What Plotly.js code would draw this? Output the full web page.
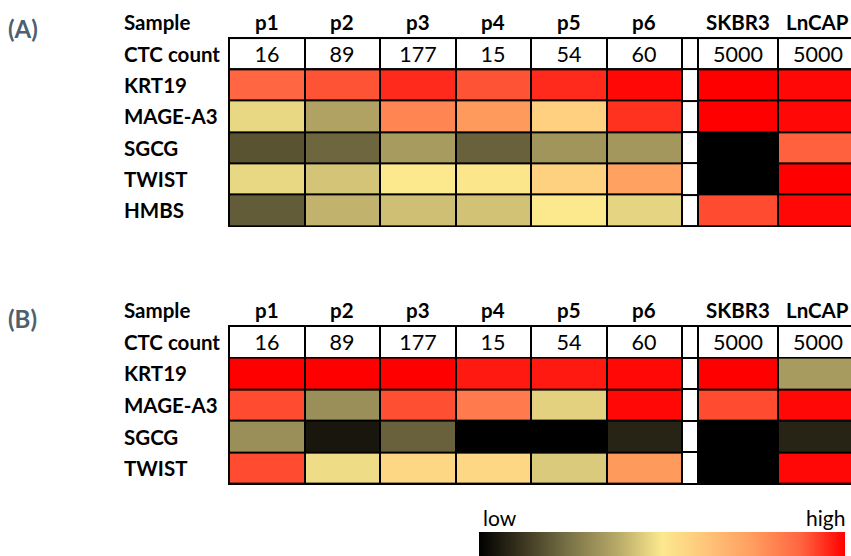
<!DOCTYPE html>
<html>
<head>
<meta charset="utf-8">
<script src="https://cdn.plot.ly/plotly-3.0.1.min.js"></script>
<style>html,body{margin:0;padding:0;background:#fff;}#chart{width:851px;height:556px;}</style>
</head>
<body>
<div id="chart"></div>
<script>
// ---------------- DATA ----------------
const samples = ['p1', 'p2', 'p3', 'p4', 'p5', 'p6', 'SKBR3', 'LnCAP'];
const ctcCounts = [16, 89, 177, 15, 54, 60, 5000, 5000];
const genesA = ['KRT19', 'MAGE-A3', 'SGCG', 'TWIST', 'HMBS'];
const genesB = ['KRT19', 'MAGE-A3', 'SGCG', 'TWIST'];
// relative expression (0 = low, 1 = high), rows follow genes, columns follow samples
const levelsA = [
  [0.875, 0.90, 0.95, 0.90, 0.95, 0.99, 1.00, 0.99],
  [0.465, 0.36, 0.80, 0.755, 0.585, 0.94, 1.00, 0.99],
  [0.18, 0.22, 0.345, 0.21, 0.33, 0.335, 0.00, 0.885],
  [0.465, 0.43, 0.50, 0.51, 0.58, 0.735, 0.00, 1.00],
  [0.20, 0.395, 0.42, 0.425, 0.50, 0.46, 0.91, 0.99]
];
const levelsB = [
  [1.00, 1.00, 1.00, 0.97, 0.97, 0.99, 1.00, 0.345],
  [0.91, 0.315, 0.905, 0.83, 0.455, 0.99, 0.91, 0.99],
  [0.315, 0.05, 0.21, 0.00, 0.00, 0.08, 0.00, 0.08],
  [0.91, 0.475, 0.56, 0.56, 0.44, 0.755, 0.00, 0.99]
];
const scaleLabels = ['low', 'high'];
const panelLabels = ['(A)', '(B)'];

// ---------------- STYLE / LAYOUT ----------------
const W = 851, H = 556;
const FONT = 'Lato, "Open Sans", "DejaVu Sans", sans-serif';
const heatScale = [
  [0.00, '#000000'], [0.12, '#3c3620'], [0.25, '#7c7448'], [0.38, '#b8aa68'],
  [0.50, '#fce98e'], [0.62, '#ffc57a'], [0.75, '#ff9c5e'], [0.88, '#ff6440'],
  [1.00, '#ff0000']
];
// column widths in grid units; a narrow blank spacer sits after p6
const gapAfter = 6;
const colWidths = [1, 1, 1, 1, 1, 1, 0.21, 1.06, 1.06];
const edges = [0];
colWidths.forEach(w => edges.push(edges[edges.length - 1] + w));
const centers = colWidths.map((w, i) => (edges[i] + edges[i + 1]) / 2);
const sampleCol = samples.map((s, i) => i < gapAfter ? i : i + 1);

const gridLeftPx = 229, unitPx = 75.5;
const xRange = [-gridLeftPx / unitPx, (W - gridLeftPx) / unitPx];
const labelX = 122 / W;

function panel(genes, levels, yName, showScale) {
  const nCols = colWidths.length;
  const rowIdx = genes.map((g, i) => i + 1);
  const z = levels.map(row => {
    const r = new Array(nCols).fill(null);
    row.forEach((v, j) => { r[sampleCol[j]] = v; });
    return r;
  });
  const heat = {
    type: 'heatmap', x: edges, y: rowIdx, z: z,
    colorscale: heatScale, zmin: 0, zmax: 1,
    xgap: 2, ygap: 2, hoverinfo: 'skip',
    xaxis: 'x', yaxis: yName,
    showscale: showScale,
    colorbar: {
      orientation: 'h', thicknessmode: 'pixels', thickness: 24,
      lenmode: 'pixels', len: 366,
      x: 662 / W, xanchor: 'center', xref: 'paper',
      y: 0, yanchor: 'bottom', yref: 'paper',
      xpad: 0, ypad: 0, outlinewidth: 0,
      showticklabels: false, ticks: ''
    }
  };
  // white cells: the CTC count row and the spacer column
  const wz = [], wt = [];
  for (let r = 0; r <= genes.length; r++) {
    const zr = new Array(nCols).fill(null), tr = new Array(nCols).fill('');
    if (r === 0) {
      zr.fill(1);
      ctcCounts.forEach((c, j) => { tr[sampleCol[j]] = String(c); });
    }
    zr[gapAfter] = 1;
    wz.push(zr); wt.push(tr);
  }
  const white = {
    type: 'heatmap', x: edges, y: [0].concat(rowIdx), z: wz, text: wt,
    texttemplate: '%{text}', textfont: {family: FONT, size: 21.5, color: '#000'},
    colorscale: [[0, '#ffffff'], [1, '#ffffff']], zmin: 0, zmax: 1,
    xgap: 2, ygap: 2, showscale: false, hoverinfo: 'skip',
    xaxis: 'x', yaxis: yName
  };
  return [heat, white];
}

const traces = [].concat(panel(genesA, levelsA, 'y', true), panel(genesB, levelsB, 'y2', false));

const annotations = [];
const shapes = [];
function labels(genes, yref) {
  const bold = {family: FONT, size: 20.5, color: '#000', weight: 'bold'};
  const rows = ['Sample', 'CTC count'].concat(genes);
  rows.forEach((t, i) => annotations.push({
    text: t, xref: 'paper', x: labelX, xanchor: 'left', yref: yref, y: i - 1,
    yanchor: 'middle', showarrow: false, font: bold
  }));
  samples.forEach((s, j) => annotations.push({
    text: s, xref: 'x', x: centers[sampleCol[j]], xanchor: 'center', yref: yref, y: -1,
    yanchor: 'middle', showarrow: false, font: bold
  }));
  shapes.push({
    type: 'rect', xref: 'x', yref: yref, layer: 'below',
    x0: edges[0], x1: edges[edges.length - 1], y0: -0.5, y1: genes.length + 0.5,
    fillcolor: '#000', line: {color: '#000', width: 2}
  });
}
labels(genesA, 'y');
labels(genesB, 'y2');

const panelFont = {family: FONT, size: 24, color: '#4f5f6e', weight: 'bold'};
annotations.push({text: panelLabels[0], xref: 'paper', yref: 'paper', x: 6 / W, y: 1 - 28 / H,
  xanchor: 'left', yanchor: 'middle', showarrow: false, font: panelFont});
annotations.push({text: panelLabels[1], xref: 'paper', yref: 'paper', x: 6 / W, y: 1 - 318 / H,
  xanchor: 'left', yanchor: 'middle', showarrow: false, font: panelFont});
const scaleFont = {family: FONT, size: 21, color: '#000'};
annotations.push({text: scaleLabels[0], xref: 'paper', yref: 'paper', x: 481 / W, y: 1 - 517 / H,
  xanchor: 'left', yanchor: 'middle', showarrow: false, font: scaleFont});
annotations.push({text: scaleLabels[1], xref: 'paper', yref: 'paper', x: 847 / W, y: 1 - 517 / H,
  xanchor: 'right', yanchor: 'middle', showarrow: false, font: scaleFont});

const hidden = {showgrid: false, zeroline: false, showticklabels: false, ticks: '', showline: false, fixedrange: true};
const layout = {
  width: W, height: H,
  margin: {l: 0, r: 0, t: 0, b: 0, pad: 0, autoexpand: false},
  paper_bgcolor: '#fff', plot_bgcolor: '#fff',
  font: {family: FONT},
  showlegend: false,
  xaxis: Object.assign({range: xRange, domain: [0, 1]}, hidden),
  yaxis: Object.assign({range: [5.947, -1.713], domain: [1 - 240 / H, 1], anchor: 'x'}, hidden),
  yaxis2: Object.assign({range: [5.006, -1.639], domain: [1 - 500 / H, 1 - 290 / H], anchor: 'x'}, hidden),
  annotations: annotations,
  shapes: shapes
};

Plotly.newPlot('chart', traces, layout, {staticPlot: true, displayModeBar: false});
</script>
</body>
</html>
